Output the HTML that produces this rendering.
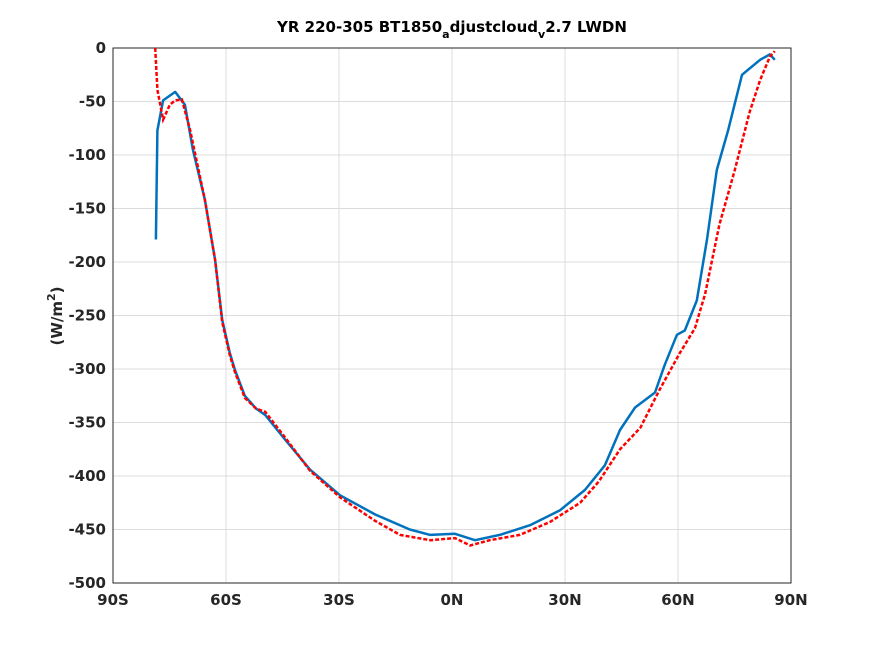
<!DOCTYPE html>
<html><head><meta charset="utf-8"><style>
body{margin:0;background:#fff;font-family:"DejaVu Sans",sans-serif}
svg text{font-family:"DejaVu Sans","Liberation Sans",sans-serif;font-weight:bold}
</style></head><body>
<svg width="875" height="656">
<rect width="875" height="656" fill="#fff"/>
<g id="grid"></g>
<rect x="113" y="48" width="678" height="535" fill="none" stroke="#262626" stroke-width="1"/>
<g id="ticks"></g>
<text x="452" y="32" text-anchor="middle" font-size="15" fill="#000">YR 220-305 BT1850<tspan font-size="11" dy="6">a</tspan><tspan dy="-6">djustcloud</tspan><tspan font-size="11" dy="6">v</tspan><tspan dy="-6">2.7 LWDN</tspan></text>
<text transform="translate(62,316) rotate(-90)" text-anchor="middle" font-size="15" fill="#262626">(W/m<tspan font-size="11" dy="-7">2</tspan><tspan dy="7">)</tspan></text>
<g id="series"></g>
</svg>
<script>
const xTicks=[-90,-60,-30,0,30,60,90];
const xTickLabels=["90S","60S","30S","0N","30N","60N","90N"];
const yTicks=[0,-50,-100,-150,-200,-250,-300,-350,-400,-450,-500];
const blueLat=[-78.6,-78.2,-76.7,-73.5,-70.9,-68.8,-65.6,-64,-62.9,-61,-59,-57.6,-55,-52,-49.6,-44.3,-37.7,-29.7,-20.4,-11.2,-5.8,0.8,6.1,12.7,20.7,28.7,35.3,40.6,44.6,48.6,53.9,56.5,59.7,61.8,65,67.7,70.3,73.3,77,81.8,84.4,85.7];
const blueVal=[-179,-77,-49,-41,-53,-95,-142,-175,-198,-254,-285,-301,-325,-337,-343,-366,-394,-418,-436,-450,-455,-454,-460,-455,-446,-432,-413,-390,-357,-336,-322,-296,-268,-264,-236,-179,-114,-77,-25,-11,-6,-11];
const redLat=[-78.8,-78.2,-76.7,-74.9,-73.5,-71.7,-69.5,-65.6,-64,-62.9,-61,-59,-57.6,-55,-52,-49.6,-44.3,-37.7,-29.7,-20.4,-13.8,-5.8,0.8,4.8,10,18,26,34,39,44.6,50,55,60.5,64.5,67.2,71,75,79,81.8,84.4,85.7];
const redVal=[0,-39,-67,-53,-49,-48,-77,-142,-175,-198,-256,-287,-303,-327,-337,-340,-364,-395,-420,-442,-455,-460,-458,-465,-460,-455,-443,-425,-405,-375,-355,-320,-285,-262,-230,-165,-115,-60,-30,-8,-3];
const NS="http://www.w3.org/2000/svg";
const X=v=>113+(v+90)/180*678, Y=v=>48+(-v)/500*535;
const grid=document.getElementById('grid'),ticks=document.getElementById('ticks'),ser=document.getElementById('series');
function mk(t,a,p){const e=document.createElementNS(NS,t);for(const k in a)e.setAttribute(k,a[k]);p.appendChild(e);return e;}
xTicks.forEach((v,i)=>{
 const g=mk('line',{x1:X(v),x2:X(v),y1:48,y2:583,stroke:'#dcdcdc'},grid);
 
 
 const t=mk('text',{x:X(v),y:605,'text-anchor':'middle','font-size':15,fill:'#262626'},ticks);
 t.textContent=xTickLabels[i];
 
 
});
yTicks.forEach(v=>{
 const g=mk('line',{x1:113,x2:791,y1:Y(v),y2:Y(v),stroke:'#dcdcdc'},grid);
 
 
 const t=mk('text',{x:106,y:Y(v)+5,'text-anchor':'end','font-size':15,fill:'#262626'},ticks);
 t.textContent=v;
 
 
});
function path(la,va){return la.map((l,i)=>(i?'L':'M')+X(l).toFixed(1)+','+Y(va[i]).toFixed(1)).join('');}
const b=mk('path',{d:path(blueLat,blueVal),fill:'none',stroke:'#0072bd','stroke-width':2.5,'stroke-linejoin':'round'},ser);


const r=mk('path',{d:path(redLat,redVal),fill:'none',stroke:'#ff0000','stroke-width':2.5,'stroke-dasharray':'4,2'},ser);


</script>
</body></html>
